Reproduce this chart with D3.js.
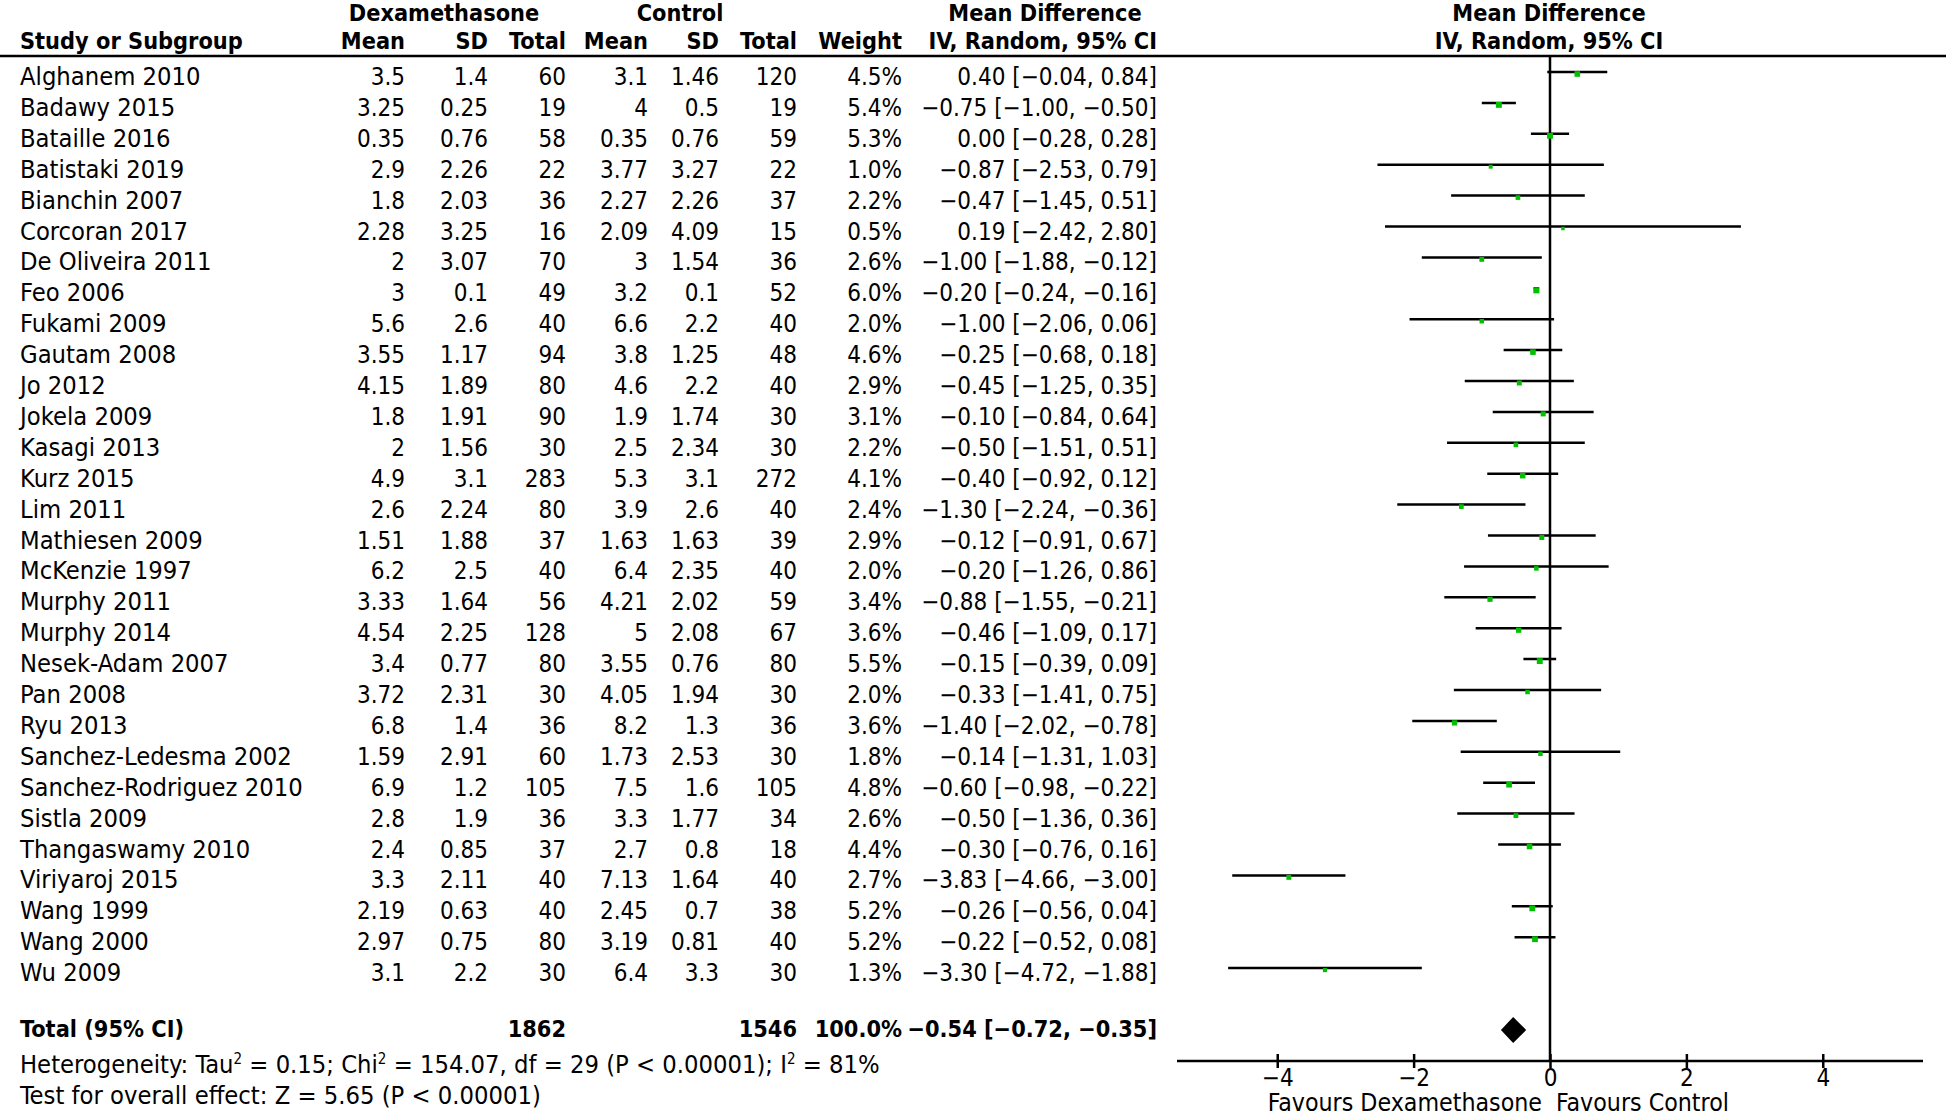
<!DOCTYPE html>
<html>
<head>
<meta charset="utf-8">
<script src="https://cdn.jsdelivr.net/npm/d3@7"></script>
<style>
  html, body { margin: 0; padding: 0; background: #fff; }
  svg { display: block; }
  text { font-family: "DejaVu Sans Condensed", "DejaVu Sans", sans-serif; font-size: 24px; fill: #000; }
  .b { font-weight: bold; font-size: 23.3px; }
  .lbl { font-size: 25.3px; }
  .fav { font-size: 24.7px; }
</style>
</head>
<body>
<svg id="chart" width="1946" height="1116"></svg>
<script>
// ---------------- DATA ----------------
const studies = ["Alghanem 2010","Badawy 2015","Bataille 2016","Batistaki 2019","Bianchin 2007","Corcoran 2017","De Oliveira 2011","Feo 2006","Fukami 2009","Gautam 2008","Jo 2012","Jokela 2009","Kasagi 2013","Kurz 2015","Lim 2011","Mathiesen 2009","McKenzie 1997","Murphy 2011","Murphy 2014","Nesek-Adam 2007","Pan 2008","Ryu 2013","Sanchez-Ledesma 2002","Sanchez-Rodriguez 2010","Sistla 2009","Thangaswamy 2010","Viriyaroj 2015","Wang 1999","Wang 2000","Wu 2009"];
const dexMean = [3.5,3.25,0.35,2.9,1.8,2.28,2,3,5.6,3.55,4.15,1.8,2,4.9,2.6,1.51,6.2,3.33,4.54,3.4,3.72,6.8,1.59,6.9,2.8,2.4,3.3,2.19,2.97,3.1];
const dexSD   = [1.4,0.25,0.76,2.26,2.03,3.25,3.07,0.1,2.6,1.17,1.89,1.91,1.56,3.1,2.24,1.88,2.5,1.64,2.25,0.77,2.31,1.4,2.91,1.2,1.9,0.85,2.11,0.63,0.75,2.2];
const dexN    = [60,19,58,22,36,16,70,49,40,94,80,90,30,283,80,37,40,56,128,80,30,36,60,105,36,37,40,40,80,30];
const ctlMean = [3.1,4,0.35,3.77,2.27,2.09,3,3.2,6.6,3.8,4.6,1.9,2.5,5.3,3.9,1.63,6.4,4.21,5,3.55,4.05,8.2,1.73,7.5,3.3,2.7,7.13,2.45,3.19,6.4];
const ctlSD   = [1.46,0.5,0.76,3.27,2.26,4.09,1.54,0.1,2.2,1.25,2.2,1.74,2.34,3.1,2.6,1.63,2.35,2.02,2.08,0.76,1.94,1.3,2.53,1.6,1.77,0.8,1.64,0.7,0.81,3.3];
const ctlN    = [120,19,59,22,37,15,36,52,40,48,40,30,30,272,40,39,40,59,67,80,30,36,30,105,34,18,40,38,40,30];
const weight  = [4.5,5.4,5.3,1.0,2.2,0.5,2.6,6.0,2.0,4.6,2.9,3.1,2.2,4.1,2.4,2.9,2.0,3.4,3.6,5.5,2.0,3.6,1.8,4.8,2.6,4.4,2.7,5.2,5.2,1.3];
const md      = [0.40,-0.75,0.00,-0.87,-0.47,0.19,-1.00,-0.20,-1.00,-0.25,-0.45,-0.10,-0.50,-0.40,-1.30,-0.12,-0.20,-0.88,-0.46,-0.15,-0.33,-1.40,-0.14,-0.60,-0.50,-0.30,-3.83,-0.26,-0.22,-3.30];
const ciLow   = [-0.04,-1.00,-0.28,-2.53,-1.45,-2.42,-1.88,-0.24,-2.06,-0.68,-1.25,-0.84,-1.51,-0.92,-2.24,-0.91,-1.26,-1.55,-1.09,-0.39,-1.41,-2.02,-1.31,-0.98,-1.36,-0.76,-4.66,-0.56,-0.52,-4.72];
const ciHigh  = [0.84,-0.50,0.28,0.79,0.51,2.80,-0.12,-0.16,0.06,0.18,0.35,0.64,0.51,0.12,-0.36,0.67,0.86,-0.21,0.17,0.09,0.75,-0.78,1.03,-0.22,0.36,0.16,-3.00,0.04,0.08,-1.88];
const totalDexN = 1862, totalCtlN = 1546, totalWeight = 100.0;
const totalMD = -0.54, totalLow = -0.72, totalHigh = -0.35;
const tickValues = [-4, -2, 0, 2, 4];
const heterogeneity = {tau2: "0.15", chi2: "154.07", df: "29", p: "P < 0.00001", i2: "81%"};
const overallEffect = "Test for overall effect: Z = 5.65 (P < 0.00001)";
const favoursLeft = "Favours Dexamethasone", favoursRight = "Favours Control";

// ---------------- LAYOUT ----------------
const svg = d3.select("#chart");
const green = "#00c000";
const fmtMD = v => d3.format(".2f")(v);   // d3 v7 uses the proper minus sign
const col = { study: 20, dMean: 405, dSD: 488, dN: 566, cMean: 648, cSD: 719, cN: 797, w: 902, ci: 1157 };

const x = d3.scaleLinear().domain([-5.47, 5.47]).range([1177, 1923]);
const yLine = d3.scaleLinear().domain([0, 1]).range([72, 102.9]);
const axisY = 1061;

// header
const hdr = svg.append("g");
const h1 = 21, h2 = 49;
hdr.append("text").attr("class","b").attr("x",444).attr("y",h1).attr("text-anchor","middle").text("Dexamethasone");
hdr.append("text").attr("class","b").attr("x",680).attr("y",h1).attr("text-anchor","middle").text("Control");
hdr.append("text").attr("class","b").attr("x",1045).attr("y",h1).attr("text-anchor","middle").text("Mean Difference");
hdr.append("text").attr("class","b").attr("x",1549).attr("y",h1).attr("text-anchor","middle").text("Mean Difference");
hdr.append("text").attr("class","b").attr("x",col.study).attr("y",h2).text("Study or Subgroup");
[["Mean",col.dMean],["SD",col.dSD],["Total",col.dN],["Mean",col.cMean],["SD",col.cSD],["Total",col.cN],["Weight",col.w],["IV, Random, 95% CI",col.ci]]
  .forEach(([t,xx]) => hdr.append("text").attr("class","b").attr("x",xx).attr("y",h2).attr("text-anchor","end").text(t));
hdr.append("text").attr("class","b").attr("x",1549).attr("y",h2).attr("text-anchor","middle").text("IV, Random, 95% CI");
svg.append("line").attr("x1",0).attr("x2",1946).attr("y1",56).attr("y2",56).attr("stroke","#000").attr("stroke-width",2.5);

// rows
const rows = svg.append("g").selectAll("g").data(studies).join("g");
rows.each(function(name, i) {
  const g = d3.select(this);
  const by = yLine(i) + 13;
  g.append("text").attr("class","lbl").attr("x",col.study).attr("y",by).text(name);
  const cells = [[dexMean[i],col.dMean],[dexSD[i],col.dSD],[dexN[i],col.dN],[ctlMean[i],col.cMean],[ctlSD[i],col.cSD],[ctlN[i],col.cN],
                 [weight[i].toFixed(1)+"%",col.w],[fmtMD(md[i])+" ["+fmtMD(ciLow[i])+", "+fmtMD(ciHigh[i])+"]",col.ci]];
  cells.forEach(([t,xx]) => g.append("text").attr("x",xx).attr("y",by).attr("text-anchor","end").text(String(t)));
});

// zero line
svg.append("line").attr("x1",x(0)).attr("x2",x(0)).attr("y1",56).attr("y2",axisY).attr("stroke","#000").attr("stroke-width",2.5);

// CI lines & squares
const plot = svg.append("g");
plot.selectAll("line.ci").data(studies).join("line").attr("class","ci")
  .attr("x1",(d,i)=>x(ciLow[i])).attr("x2",(d,i)=>x(ciHigh[i]))
  .attr("y1",(d,i)=>yLine(i)).attr("y2",(d,i)=>yLine(i))
  .attr("stroke","#000").attr("stroke-width",2.5);
plot.selectAll("rect.sq").data(studies).join("rect").attr("class","sq")
  .each(function(d,i){
    const s = 2.4 + 1.5*Math.sqrt(weight[i]);
    d3.select(this).attr("x",x(md[i])-s/2).attr("y",yLine(i)+2-s/2).attr("width",s).attr("height",s);
  })
  .attr("fill",green);

// total row
const ty = 1037;
svg.append("text").attr("class","b").attr("x",col.study).attr("y",ty).text("Total (95% CI)");
svg.append("text").attr("class","b").attr("x",col.dN).attr("y",ty).attr("text-anchor","end").text(totalDexN);
svg.append("text").attr("class","b").attr("x",col.cN).attr("y",ty).attr("text-anchor","end").text(totalCtlN);
svg.append("text").attr("class","b").attr("x",col.w).attr("y",ty).attr("text-anchor","end").text(totalWeight.toFixed(1)+"%");
svg.append("text").attr("class","b").attr("x",col.ci).attr("y",ty).attr("text-anchor","end")
  .text(fmtMD(totalMD)+" ["+fmtMD(totalLow)+", "+fmtMD(totalHigh)+"]");
const dy0 = 1030, dh = 13;
svg.append("polygon")
  .attr("points",[[x(totalLow),dy0],[x(totalMD),dy0-dh],[x(totalHigh),dy0],[x(totalMD),dy0+dh]].map(p=>p.join(",")).join(" "))
  .attr("fill","#000");

// heterogeneity
const het = svg.append("text").attr("class","lbl").attr("x",col.study).attr("y",1073);
het.append("tspan").text("Heterogeneity: Tau");
het.append("tspan").attr("dy",-9).attr("font-size",15).text("2");
het.append("tspan").attr("dy",9).text(" = "+heterogeneity.tau2+"; Chi");
het.append("tspan").attr("dy",-9).attr("font-size",15).text("2");
het.append("tspan").attr("dy",9).text(" = "+heterogeneity.chi2+", df = "+heterogeneity.df+" ("+heterogeneity.p+"); I");
het.append("tspan").attr("dy",-9).attr("font-size",15).text("2");
het.append("tspan").attr("dy",9).text(" = "+heterogeneity.i2);
svg.append("text").attr("class","lbl").attr("x",col.study).attr("y",1104).text(overallEffect);

// axis
const axis = d3.axisBottom(x).tickValues(tickValues).tickSizeOuter(0).tickSize(7).tickPadding(2).tickFormat(d3.format("d"));
const ax = svg.append("g").attr("transform",`translate(0,${axisY})`).call(axis);
ax.select(".domain").attr("stroke","#000").attr("stroke-width",2.5).attr("d",`M${x.range()[0]},0H${x.range()[1]}`);
ax.selectAll(".tick line").attr("y1",-7).attr("y2",7).attr("stroke","#000").attr("stroke-width",2.5);
ax.selectAll(".tick text").attr("font-size",22).attr("font-family",null).attr("fill","#000").attr("dy","0.68em");
svg.append("text").attr("class","fav").attr("x",x(0)-8).attr("y",1111).attr("text-anchor","end").text(favoursLeft);
svg.append("text").attr("class","fav").attr("x",x(0)+6).attr("y",1111).attr("text-anchor","start").text(favoursRight);
</script>
</body>
</html>
